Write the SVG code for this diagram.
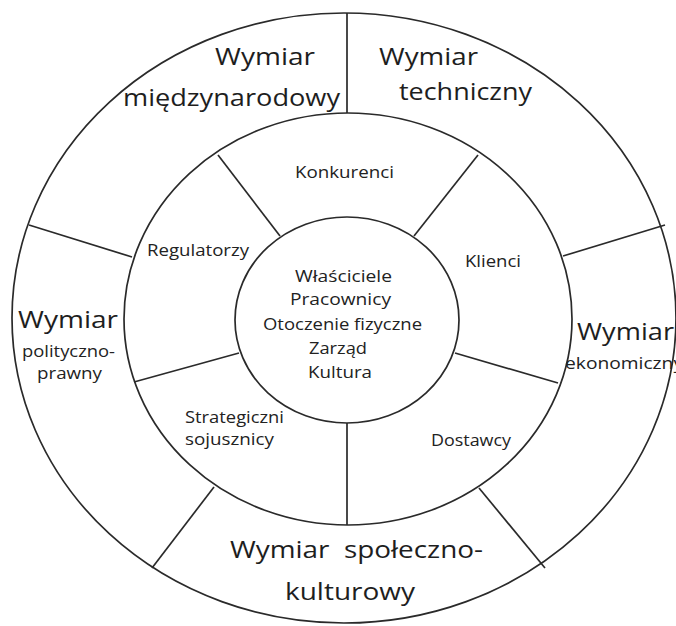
<svg xmlns="http://www.w3.org/2000/svg" width="676" height="626" viewBox="0 0 676 626">
<style>
.ring{fill:none;stroke:#2a2a2a;stroke-width:1.7}
.ln{stroke:#2a2a2a;stroke-width:1.7}
.big{font-family:"Open Sans","Noto Sans",sans-serif;font-size:24px;fill:#1e1e1e}
.mid{font-family:"Open Sans","Noto Sans",sans-serif;font-size:16px;fill:#222}
</style>
<rect width="676" height="626" fill="#fff"/>
<g id="outer-ring"><ellipse class="ring" cx="344" cy="318" rx="332" ry="305"/></g>
<g id="middle-ring"><ellipse class="ring" cx="348" cy="319" rx="224" ry="206"/></g>
<g id="inner-circle"><ellipse class="ring" cx="347" cy="320" rx="112" ry="103"/></g>
<g id="connectors">
<line class="ln" x1="347" y1="13" x2="347" y2="113"/>
<line class="ln" x1="29" y1="225" x2="132" y2="257"/>
<line class="ln" x1="665" y1="225" x2="563" y2="256"/>
<line class="ln" x1="152" y1="568" x2="214" y2="487"/>
<line class="ln" x1="545" y1="568" x2="479" y2="488"/>
<line class="ln" x1="218" y1="155" x2="280" y2="236"/>
<line class="ln" x1="478" y1="155" x2="414" y2="236"/>
<line class="ln" x1="134" y1="382" x2="239" y2="353"/>
<line class="ln" x1="558" y1="383" x2="455" y2="353"/>
<line class="ln" x1="347" y1="423" x2="347" y2="525"/>
</g>
<g id="wymiar-miedzynarodowy">
<text class="big" x="215" y="65" textLength="100" lengthAdjust="spacingAndGlyphs">Wymiar</text>
<text class="big" x="123" y="106" textLength="217" lengthAdjust="spacingAndGlyphs">międzynarodowy</text>
</g>
<g id="wymiar-techniczny">
<text class="big" x="379" y="65" textLength="99" lengthAdjust="spacingAndGlyphs">Wymiar</text>
<text class="big" x="399" y="100" textLength="133" lengthAdjust="spacingAndGlyphs">techniczny</text>
</g>
<g id="wymiar-polityczno-prawny">
<text class="big" x="18" y="328" textLength="100" lengthAdjust="spacingAndGlyphs">Wymiar</text>
<text class="mid" x="22" y="357" textLength="93" lengthAdjust="spacingAndGlyphs">polityczno-</text>
<text class="mid" x="37" y="379" textLength="65" lengthAdjust="spacingAndGlyphs">prawny</text>
</g>
<g id="wymiar-ekonomiczny">
<text class="big" x="577" y="340" textLength="97" lengthAdjust="spacingAndGlyphs">Wymiar</text>
<text class="mid" x="565" y="369" textLength="118" lengthAdjust="spacingAndGlyphs">ekonomiczny</text>
</g>
<g id="wymiar-spoleczno-kulturowy">
<text class="big" x="230" y="558" textLength="253" lengthAdjust="spacingAndGlyphs" xml:space="preserve">Wymiar  społeczno-</text>
<text class="big" x="285" y="600" textLength="130" lengthAdjust="spacingAndGlyphs">kulturowy</text>
</g>
<g id="konkurenci"><text class="mid" x="295" y="178" textLength="99" lengthAdjust="spacingAndGlyphs">Konkurenci</text></g>
<g id="regulatorzy"><text class="mid" x="147" y="256" textLength="102" lengthAdjust="spacingAndGlyphs">Regulatorzy</text></g>
<g id="klienci"><text class="mid" x="465" y="267" textLength="56" lengthAdjust="spacingAndGlyphs">Klienci</text></g>
<g id="strategiczni-sojusznicy">
<text class="mid" x="185" y="423" textLength="99" lengthAdjust="spacingAndGlyphs">Strategiczni</text>
<text class="mid" x="185" y="445" textLength="89" lengthAdjust="spacingAndGlyphs">sojusznicy</text>
</g>
<g id="dostawcy"><text class="mid" x="431" y="446" textLength="80" lengthAdjust="spacingAndGlyphs">Dostawcy</text></g>
<g id="centrum">
<text class="mid" x="295" y="282" textLength="97" lengthAdjust="spacingAndGlyphs">Właściciele</text>
<text class="mid" x="290" y="305" textLength="101" lengthAdjust="spacingAndGlyphs">Pracownicy</text>
<text class="mid" x="263" y="330" textLength="159" lengthAdjust="spacingAndGlyphs">Otoczenie fizyczne</text>
<text class="mid" x="309" y="354" textLength="58" lengthAdjust="spacingAndGlyphs">Zarząd</text>
<text class="mid" x="308" y="378" textLength="64" lengthAdjust="spacingAndGlyphs">Kultura</text>
</g>
</svg>
